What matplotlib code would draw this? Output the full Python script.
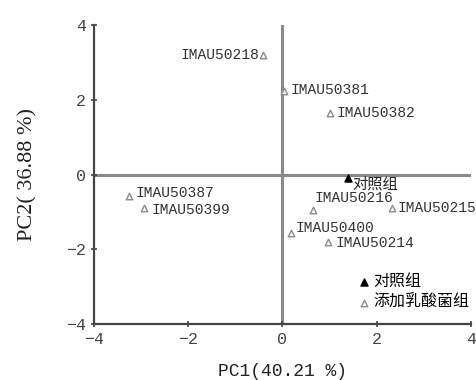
import matplotlib.pyplot as plt

# 菌株 PCA 得分
strains = ['IMAU50218', 'IMAU50381', 'IMAU50382', 'IMAU50387', 'IMAU50399',
           'IMAU50216', 'IMAU50215', 'IMAU50400', 'IMAU50214']
pc1 = [-0.41, 0.03, 1.01, -3.26, -2.93, 0.66, 2.32, 0.18, 0.97]
pc2 = [3.19, 2.23, 1.64, -0.57, -0.90, -0.95, -0.90, -1.57, -1.80]

ctrl_name = '对照组'
ctrl_pc1 = [1.39]
ctrl_pc2 = [-0.10]

add_name = '添加乳酸菌组'
xticks = [-4, -2, 0, 2, 4]
yticks = [-4, -2, 0, 2, 4]

mono = ['Liberation Mono', 'DejaVu Sans Mono']
cjk = ['Noto Sans CJK SC', 'DejaVu Sans']

# label offsets (points)
offsets = {
    'IMAU50218': (-3, 0, 'right'),
    'IMAU50381': (5, 1, 'left'),
    'IMAU50382': (5, 0, 'left'),
    'IMAU50387': (5, 2, 'left'),
    'IMAU50399': (5, -1, 'left'),
    'IMAU50216': (1, 9, 'left'),
    'IMAU50215': (4, 0, 'left'),
    'IMAU50400': (3, 4, 'left'),
    'IMAU50214': (5, -1, 'left'),
}

fig = plt.figure(figsize=(4.77, 3.80), dpi=100)
ax = fig.add_axes([0.197, 0.147, 0.790, 0.787])

ax.axhline(0, color='#8a8a8a', lw=2.2, zorder=1)
ax.axvline(0, color='#8a8a8a', lw=2.2, zorder=1)

ax.scatter(pc1, pc2, marker='^', s=22, facecolor='#f4f4f4',
           edgecolor='#8c8c8c', linewidth=1.0, zorder=3, label=add_name)
ax.scatter(ctrl_pc1, ctrl_pc2, marker='^', s=26, color='black', zorder=3,
           label=ctrl_name)

for name, x, y in zip(strains, pc1, pc2):
    dx, dy, ha = offsets[name]
    ax.annotate(name, (x, y), xytext=(dx, dy), textcoords='offset points',
                ha=ha, va='center', fontsize=10.5, family=mono,
                color='#333333')

ax.annotate(ctrl_name, (ctrl_pc1[0], ctrl_pc2[0]), xytext=(3, -4),
            textcoords='offset points', ha='left', va='center',
            fontsize=11, family=cjk, color='#222222')

handles, labels = ax.get_legend_handles_labels()
ax.legend(handles[::-1], labels[::-1], loc='center left',
          bbox_to_anchor=(0.70, 0.107), frameon=False, handletextpad=0.2,
          labelspacing=0.22, prop={'family': cjk, 'size': 11.5},
          handlelength=0.8, borderpad=0, borderaxespad=0)

ax.set_xlim(-4, 4)
ax.set_ylim(-4, 4)
ax.set_xticks(xticks)
ax.set_yticks(yticks)
ax.spines['top'].set_visible(False)
ax.spines['right'].set_visible(False)
for s in ['left', 'bottom']:
    ax.spines[s].set_color('#444444')
    ax.spines[s].set_linewidth(1.6)
ax.tick_params(direction='inout', length=5, width=1.2, color='#444444',
               labelsize=12, labelcolor='#444444')
for lab in ax.get_xticklabels() + ax.get_yticklabels():
    lab.set_family(mono)

ax.set_xlabel('PC1(40.21 %)', family=mono, fontsize=13,
              color='#222222', labelpad=11)
ax.set_ylabel('PC2( 36.88 %)', family='Liberation Serif', fontsize=16,
              color='#222222', labelpad=20)

fig.savefig('out.png', dpi=100)
